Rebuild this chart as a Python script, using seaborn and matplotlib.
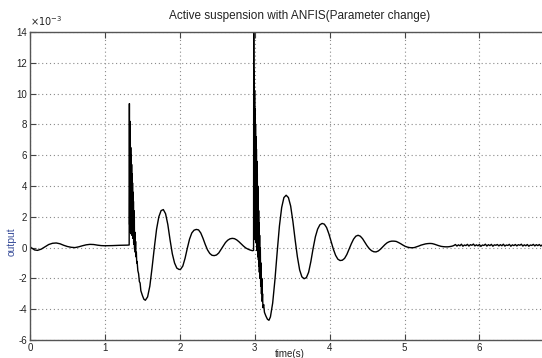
import numpy as np
import pandas as pd
import matplotlib
matplotlib.use("Agg")
import matplotlib.pyplot as plt
import seaborn as sns

sns.set_style("white")
plt.rcParams['font.family'] = ['Liberation Sans', 'DejaVu Sans']
plt.rcParams['axes.unicode_minus'] = False

# ---- data (values in units of 1e-3) ----
t_pre = [0, 0.03, 0.06, 0.1, 0.15, 0.2, 0.25, 0.3, 0.35, 0.4, 0.45, 0.5, 0.55, 0.6,
         0.65, 0.7, 0.75, 0.8, 0.85, 0.9, 0.95, 1.0, 1.1, 1.2, 1.3, 1.324]
v_pre = [0.05, -0.05, -0.15, -0.18, -0.1, 0.05, 0.2, 0.28, 0.3, 0.25, 0.15, 0.07, 0.02, 0.0,
         0.05, 0.12, 0.18, 0.21, 0.2, 0.16, 0.13, 0.12, 0.13, 0.15, 0.16, 0.17]

t_spike1 = [1.327, 1.330, 1.333, 1.336, 1.339, 1.342, 1.345, 1.348, 1.351, 1.354, 1.357,
            1.360, 1.363, 1.366, 1.369, 1.372, 1.375, 1.378, 1.381, 1.384, 1.387, 1.390,
            1.393, 1.396, 1.400, 1.405, 1.410, 1.415, 1.420, 1.425, 1.430, 1.440, 1.450,
            1.460, 1.470, 1.480, 1.500, 1.520]
v_spike1 = [9.35, 1.5, 8.2, 1.0, 7.6, 1.3, 6.5, 0.9, 6.0, 1.2, 5.4,
            0.8, 4.8, 1.0, 4.2, 0.6, 3.6, 0.7, 3.0, 0.3, 2.4, 0.2,
            1.8, -0.1, 1.0, -0.3, 0.4, -0.6, -0.3, -1.0, -0.9, -1.5, -1.7,
            -2.2, -2.3, -2.8, -3.1, -3.35]

t_wave1 = [1.54, 1.57, 1.60, 1.63, 1.66, 1.69, 1.72, 1.75, 1.78,
           1.81, 1.84, 1.87, 1.90, 1.93, 1.96, 1.99, 2.01,
           2.04, 2.07, 2.10, 2.13, 2.16, 2.19, 2.22, 2.25,
           2.28, 2.31, 2.34, 2.37, 2.40, 2.43, 2.46, 2.49,
           2.52, 2.55, 2.58, 2.61, 2.64, 2.67, 2.70, 2.73, 2.76,
           2.79, 2.82, 2.85, 2.88, 2.91, 2.94, 2.97, 2.985]
v_wave1 = [-3.42, -3.2, -2.5, -1.3, 0.0, 1.2, 2.0, 2.4, 2.47,
           2.2, 1.5, 0.5, -0.4, -1.0, -1.33, -1.42, -1.41,
           -1.2, -0.7, -0.05, 0.55, 0.95, 1.13, 1.18, 1.15,
           0.95, 0.6, 0.2, -0.15, -0.38, -0.5, -0.52, -0.48,
           -0.35, -0.12, 0.12, 0.33, 0.48, 0.57, 0.6, 0.58, 0.5,
           0.38, 0.24, 0.1, -0.02, -0.1, -0.16, -0.2, -0.18]

t_spike2 = [2.987, 2.990, 2.993, 2.996, 2.999, 3.002, 3.005, 3.008, 3.011, 3.014, 3.017,
            3.020, 3.023, 3.026, 3.029, 3.032, 3.035, 3.038, 3.041, 3.044, 3.047, 3.050,
            3.053, 3.056, 3.059, 3.062, 3.066, 3.070, 3.075, 3.080, 3.085, 3.090, 3.095,
            3.100, 3.105, 3.110, 3.120, 3.130, 3.150, 3.170]
v_spike2 = [14.3, 1.0, 11.5, 0.8, 10.2, 1.5, 9.0, 0.5, 8.0, 1.0, 7.2,
            0.3, 6.4, 0.5, 5.6, -0.2, 4.8, 0.0, 4.0, -0.6, 3.2, -0.8,
            2.4, -1.2, 1.6, -1.6, 0.8, -2.0, 0.0, -2.5, -1.0, -3.0, -2.0,
            -3.5, -3.0, -3.9, -3.7, -4.2, -4.45, -4.65]

t_wave2 = [3.19, 3.21, 3.24, 3.27, 3.30, 3.33, 3.36, 3.39, 3.42, 3.45,
           3.48, 3.51, 3.54, 3.57, 3.60, 3.63, 3.66, 3.69,
           3.72, 3.75, 3.78, 3.81, 3.84, 3.87, 3.90, 3.93, 3.96,
           3.99, 4.02, 4.05, 4.08, 4.11, 4.14, 4.17, 4.20,
           4.23, 4.26, 4.29, 4.32, 4.35, 4.38, 4.41, 4.44,
           4.47, 4.50, 4.53, 4.56, 4.59, 4.62, 4.65,
           4.68, 4.71, 4.74, 4.77, 4.80, 4.83, 4.86, 4.89, 4.92,
           4.95, 4.98, 5.01, 5.04, 5.07, 5.10, 5.13, 5.16,
           5.19, 5.22, 5.25, 5.28, 5.31, 5.34, 5.37, 5.40, 5.43,
           5.46, 5.49, 5.52, 5.55, 5.58, 5.61, 5.64]
v_wave2 = [-4.72, -4.5, -3.6, -2.1, -0.3, 1.4, 2.6, 3.25, 3.4, 3.25,
           2.7, 1.7, 0.5, -0.6, -1.45, -1.9, -2.02, -1.95,
           -1.6, -0.9, -0.05, 0.7, 1.2, 1.48, 1.57, 1.52, 1.3,
           0.9, 0.4, -0.1, -0.5, -0.75, -0.84, -0.82, -0.7,
           -0.45, -0.1, 0.25, 0.55, 0.74, 0.8, 0.74, 0.58,
           0.35, 0.12, -0.07, -0.2, -0.27, -0.28, -0.22,
           -0.1, 0.05, 0.2, 0.32, 0.39, 0.42, 0.42, 0.4, 0.33,
           0.25, 0.16, 0.08, 0.03, 0.0, -0.01, 0.0, 0.05,
           0.1, 0.16, 0.2, 0.24, 0.26, 0.27, 0.26, 0.22, 0.17,
           0.12, 0.08, 0.06, 0.05, 0.05, 0.07, 0.1]

v_tail = [0.14, 0.2, 0.1, 0.18, 0.12, 0.22, 0.09, 0.17, 0.13, 0.21, 0.1, 0.19, 0.15, 0.23,
          0.11, 0.18, 0.12, 0.2, 0.08, 0.17, 0.14, 0.22, 0.1, 0.19, 0.13, 0.21, 0.09, 0.18,
          0.15, 0.2, 0.11, 0.19, 0.12, 0.22, 0.1, 0.17, 0.14, 0.21, 0.09, 0.18, 0.13, 0.2,
          0.11, 0.19, 0.15, 0.22, 0.1, 0.18, 0.12, 0.2, 0.09, 0.17, 0.14, 0.21, 0.11, 0.19,
          0.13, 0.2, 0.1, 0.18]
t_tail = np.round(np.linspace(5.66, 6.84, len(v_tail)), 3)

x_ticks = [0, 1, 2, 3, 4, 5, 6]
y_ticks = [-6, -4, -2, 0, 2, 4, 6, 8, 10, 12, 14]

t_all = list(t_pre) + list(t_spike1) + list(t_wave1) + list(t_spike2) + list(t_wave2) + list(t_tail)
v_all = list(v_pre) + list(v_spike1) + list(v_wave1) + list(v_spike2) + list(v_wave2) + list(v_tail)
df = pd.DataFrame({"time": t_all, "output": v_all})

fig = plt.figure(figsize=(5.42, 3.58), dpi=100)
ax = fig.add_axes([30 / 542, 18 / 358, 512 / 542, 308 / 358])

sns.lineplot(data=df, x="time", y="output", ax=ax, sort=False, estimator=None,
             color="black", linewidth=1.0)

ax.set_xlim(0, 512 / 74.9)
ax.set_ylim(-6, 14)
ax.set_xticks(x_ticks)
ax.set_yticks(y_ticks)
ax.set_xticklabels([str(v) for v in x_ticks])
ax.set_yticklabels([str(v) for v in y_ticks])
ax.grid(True, linestyle=(0, (1, 2.5)), color="#8a8a8a", linewidth=0.8)

for side in ["left", "bottom", "top"]:
    ax.spines[side].set_visible(True)
    ax.spines[side].set_color("#555555")
    ax.spines[side].set_linewidth(1.0)
ax.spines["right"].set_visible(False)

ax.tick_params(axis="both", direction="in", length=4, width=0.8, colors="#444444",
               labelsize=7, labelcolor="#222222", pad=2, top=True, left=True, bottom=True)

ax.set_title("Active suspension with ANFIS(Parameter change)", fontsize=8.5,
             color="#222222", x=270 / 512, pad=9)
ax.text(0.0, 1.012, r"$\times10^{-3}$", transform=ax.transAxes, fontsize=7,
        ha="left", va="bottom", color="#222222")

ax.set_ylabel("output", fontsize=7.5, color="#3a4f9a")
ax.yaxis.set_label_coords(-0.027, 0.32)
ax.set_xlabel("time(s)", fontsize=7, color="#222222")
ax.xaxis.set_label_coords(260 / 512, -0.029)

fig.savefig("out.png", dpi=100)
